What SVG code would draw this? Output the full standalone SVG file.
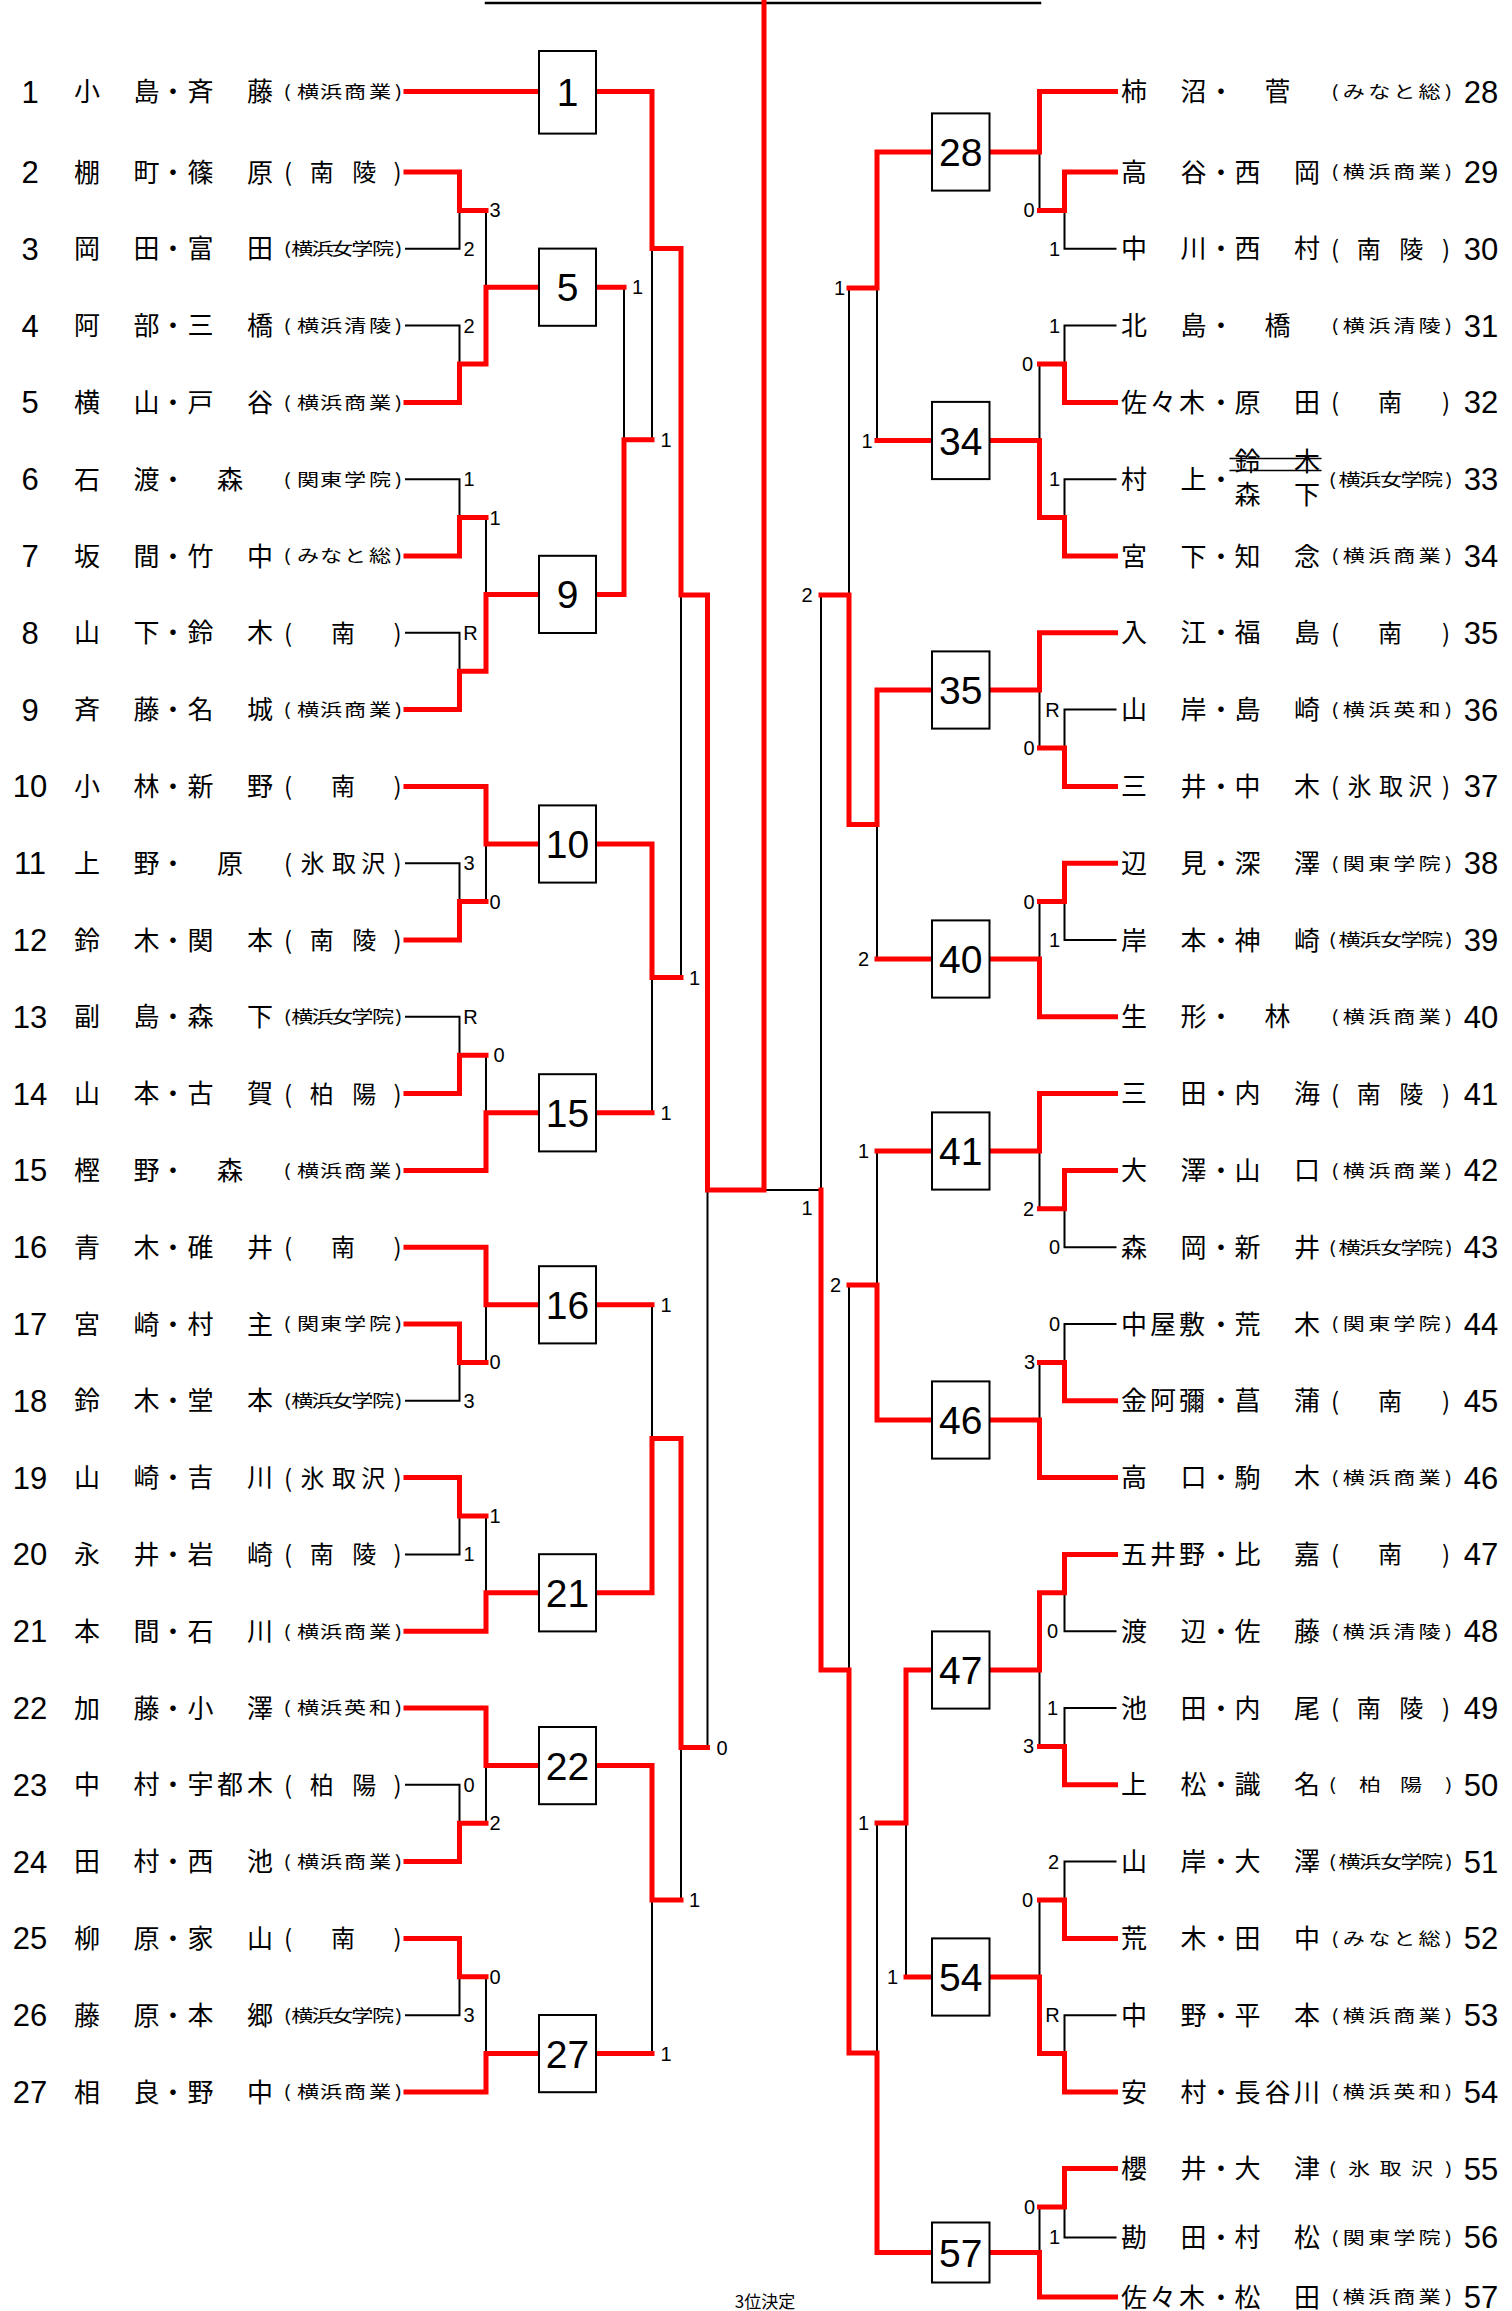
<svg xmlns="http://www.w3.org/2000/svg" width="1512" height="2311" viewBox="0 0 1512 2311">
<style>
.k{fill:none;stroke:#000;stroke-width:2;stroke-linecap:square}
.r{fill:none;stroke:#ff0000;stroke-width:5;stroke-linecap:square;stroke-linejoin:miter}
.box{fill:#fff;stroke:#000;stroke-width:2}
.num{font-family:"Liberation Sans",Arial,sans-serif;font-size:31px;text-anchor:middle;fill:#000}
.bn{font-family:"Liberation Sans",Arial,sans-serif;font-size:39px;text-anchor:middle;fill:#000}
.sc{font-family:"Liberation Sans",Arial,sans-serif;font-size:20px;text-anchor:middle;fill:#000}
.nm{font-family:"Noto Sans CJK JP","Noto Sans CJK SC",sans-serif;font-size:26px;text-anchor:middle;fill:#000}
.ss{font-family:"Noto Sans CJK JP","Noto Sans CJK SC",sans-serif;font-size:17px;text-anchor:middle;fill:#000}
.sl{font-family:"Noto Sans CJK JP","Noto Sans CJK SC",sans-serif;font-size:24px;text-anchor:middle;fill:#000}
</style>
<rect x="0" y="0" width="1512" height="2311" fill="#fff"/>
<g id="connectors">
<path class="k" style="stroke-width:2.5" d="M486,3H1040"/>
<path class="k" d="M406,248.8H459.5V210.4M406,325.6H459.5V364M406,479.2H459.5V517.6M406,632.8H459.5V671.2M406,863.2H459.5V901.6M406,1016.8H459.5V1055.2M406,1400.8H459.5V1362.4M406,1554.4H459.5V1516M406,1784.8H459.5V1823.2M406,2015.2H459.5V1976.8"/>
<path class="k" d="M486,210.4V287.2M486,517.6V594.4M486,901.6V844M486,1055.2V1112.8M486,1362.4V1304.8M486,1516V1592.8M486,1823.2V1765.6M486,1976.8V2053.6"/>
<path class="k" d="M624,287.2V439.7M652,439.7V248.4M652,1112.8V977.6M681,977.6V595M652,1304.8V1438.5M652,2053.6V1900M681,1900V1747.5M707.5,1747.5V1190M764,1190H821M821,595V1190"/>
<path class="k" d="M1115.5,248.8H1064.5V210.4M1115.5,325.6H1064.5V364M1115.5,479.2H1064.5V517.6M1115.5,709.6H1064.5V748M1115.5,940H1064.5V901.6M1115.5,1247.2H1064.5V1208.8M1115.5,1324H1064.5V1362.4M1115.5,1631.2H1064.5V1592.8M1115.5,1708H1064.5V1746.4M1115.5,1861.6H1064.5V1900M1115.5,2015.2H1064.5V2053.6M1115.5,2237.4H1064.5V2207"/>
<path class="k" d="M1039.5,210.4V152M1039.5,364V440.5M1039.5,748V690M1039.5,901.6V959M1039.5,1208.8V1151M1039.5,1362.4V1420M1039.5,1746.4V1670M1039.5,1900V1977M1039.5,2207V2252.5"/>
<path class="k" d="M877,440.5V288M849,288V595M877,959V824.6M877,1151V1285M849,1285V1670M906,1977V1823M877,1823V2053"/>
<path class="r" d="M406,91.5H539M406,172H459.5V210.4H486M406,402.4H459.5V364H486V287.2H539M406,556H459.5V517.6H486M406,709.6H459.5V671.2H486V594.4H539M406,786.4H486V844H539M406,940H459.5V901.6H486M406,1093.6H459.5V1055.2H486M406,1170.4H486V1112.8H539M406,1247.2H486V1304.8H539M406,1324H459.5V1362.4H486M406,1477.6H459.5V1516H486M406,1631.2H486V1592.8H539M406,1708H486V1765.6H539M406,1861.6H459.5V1823.2H486M406,1938.4H459.5V1976.8H486M406,2092H486V2053.6H539"/>
<path class="r" d="M596,91.5H652V248.4H681V595H707.5V1190H764V0M596,287.2H624M596,594.4H624V439.7H652M596,844H652V977.6H681M596,1112.8H652M596,1304.8H652M596,1592.8H652V1438.5H681V1747.5H707.5M596,1765.6H652V1900H681M596,2053.6H652"/>
<path class="r" d="M1115.5,91.5H1039.5V152H989.5M1115.5,172H1064.5V210.4H1039.5M1115.5,402.4H1064.5V364H1039.5M1115.5,556H1064.5V517.6H1039.5V440.5H989.5M1115.5,632.8H1039.5V690H989.5M1115.5,786.4H1064.5V748H1039.5M1115.5,863.2H1064.5V901.6H1039.5M1115.5,1016.8H1039.5V959H989.5M1115.5,1093.6H1039.5V1151H989.5M1115.5,1170.4H1064.5V1208.8H1039.5M1115.5,1400.8H1064.5V1362.4H1039.5M1115.5,1477.6H1039.5V1420H989.5M1115.5,1554.4H1064.5V1592.8H1039.5V1670H989.5M1115.5,1784.8H1064.5V1746.4H1039.5M1115.5,1938.4H1064.5V1900H1039.5M1115.5,2092H1064.5V2053.6H1039.5V1977H989.5M1115.5,2168.6H1064.5V2207H1039.5M1115.5,2297H1039.5V2252.5H989.5"/>
<path class="r" d="M932,152H877V288H849M932,440.5H877M932,690H877V824.6H849V595H821M932,959H877M932,1151H877M932,1420H877V1285H849M932,1670H906V1823H877M932,1977H906M932,2252.5H877V2053H849V1670H821V1190"/>
<g id="scores">
<text class="sc" x="495" y="217.4">3</text><text class="sc" x="469" y="255.8">2</text><text class="sc" x="469" y="332.6">2</text>
<text class="sc" x="469" y="486.2">1</text><text class="sc" x="495" y="524.6">1</text><text class="sc" x="470.5" y="639.8">R</text>
<text class="sc" x="469" y="870.2">3</text><text class="sc" x="495" y="908.6">0</text><text class="sc" x="470.5" y="1023.8">R</text>
<text class="sc" x="499" y="1062.2">0</text><text class="sc" x="495" y="1369.4">0</text><text class="sc" x="469" y="1407.8">3</text>
<text class="sc" x="495" y="1523">1</text><text class="sc" x="469" y="1561.4">1</text><text class="sc" x="469" y="1791.8">0</text>
<text class="sc" x="495" y="1830.2">2</text><text class="sc" x="495" y="1983.8">0</text><text class="sc" x="469" y="2022.2">3</text>
<text class="sc" x="637.5" y="294.2">1</text><text class="sc" x="666" y="446.7">1</text><text class="sc" x="694.5" y="984.6">1</text>
<text class="sc" x="666" y="1119.8">1</text><text class="sc" x="666" y="1311.8">1</text><text class="sc" x="722" y="1754.5">0</text>
<text class="sc" x="694.5" y="1907">1</text><text class="sc" x="666" y="2060.6">1</text>
<text class="sc" x="1029" y="217.4">0</text><text class="sc" x="1054.5" y="255.8">1</text><text class="sc" x="1054.5" y="332.6">1</text>
<text class="sc" x="1027.5" y="371">0</text><text class="sc" x="1054.5" y="486.2">1</text><text class="sc" x="1052.5" y="716.6">R</text>
<text class="sc" x="1029" y="755">0</text><text class="sc" x="1029" y="908.6">0</text><text class="sc" x="1054.5" y="947">1</text>
<text class="sc" x="1028.5" y="1215.8">2</text><text class="sc" x="1054.5" y="1254.2">0</text><text class="sc" x="1054.5" y="1331">0</text>
<text class="sc" x="1029.5" y="1369.4">3</text><text class="sc" x="1052.5" y="1638.2">0</text><text class="sc" x="1052.5" y="1715">1</text>
<text class="sc" x="1028.5" y="1753.4">3</text><text class="sc" x="1053.5" y="1868.6">2</text><text class="sc" x="1027.5" y="1907">0</text>
<text class="sc" x="1052.5" y="2022.2">R</text><text class="sc" x="1029.5" y="2214">0</text><text class="sc" x="1054.5" y="2244.4">1</text>
<text class="sc" x="839.5" y="295">1</text><text class="sc" x="867" y="447.5">1</text><text class="sc" x="807" y="602">2</text>
<text class="sc" x="863.5" y="966">2</text><text class="sc" x="863.5" y="1158">1</text><text class="sc" x="807" y="1215">1</text>
<text class="sc" x="835.5" y="1292">2</text><text class="sc" x="863.5" y="1830">1</text><text class="sc" x="892.5" y="1984">1</text>
</g>
</g>
<g id="m1"><rect class="box" x="539" y="51" width="57" height="82.6"/><text class="bn" x="567.5" y="105.5">1</text></g>
<g id="m5"><rect class="box" x="539" y="248.6" width="57" height="77.2"/><text class="bn" x="567.5" y="301.2">5</text></g>
<g id="m9"><rect class="box" x="539" y="555.8" width="57" height="77.2"/><text class="bn" x="567.5" y="608.4">9</text></g>
<g id="m10"><rect class="box" x="539" y="805.4" width="57" height="77.2"/><text class="bn" x="567.5" y="858">10</text></g>
<g id="m15"><rect class="box" x="539" y="1074.2" width="57" height="77.2"/><text class="bn" x="567.5" y="1126.8">15</text></g>
<g id="m16"><rect class="box" x="539" y="1266.2" width="57" height="77.2"/><text class="bn" x="567.5" y="1318.8">16</text></g>
<g id="m21"><rect class="box" x="539" y="1554.2" width="57" height="77.2"/><text class="bn" x="567.5" y="1606.8">21</text></g>
<g id="m22"><rect class="box" x="539" y="1727" width="57" height="77.2"/><text class="bn" x="567.5" y="1779.6">22</text></g>
<g id="m27"><rect class="box" x="539" y="2015" width="57" height="77.2"/><text class="bn" x="567.5" y="2067.6">27</text></g>
<g id="m28"><rect class="box" x="932" y="113.4" width="57.5" height="77.2"/><text class="bn" x="960.8" y="166">28</text></g>
<g id="m34"><rect class="box" x="932" y="401.9" width="57.5" height="77.2"/><text class="bn" x="960.8" y="454.5">34</text></g>
<g id="m35"><rect class="box" x="932" y="651.4" width="57.5" height="77.2"/><text class="bn" x="960.8" y="704">35</text></g>
<g id="m40"><rect class="box" x="932" y="920.4" width="57.5" height="77.2"/><text class="bn" x="960.8" y="973">40</text></g>
<g id="m41"><rect class="box" x="932" y="1112.4" width="57.5" height="77.2"/><text class="bn" x="960.8" y="1165">41</text></g>
<g id="m46"><rect class="box" x="932" y="1381.4" width="57.5" height="77.2"/><text class="bn" x="960.8" y="1434">46</text></g>
<g id="m47"><rect class="box" x="932" y="1631.4" width="57.5" height="77.2"/><text class="bn" x="960.8" y="1684">47</text></g>
<g id="m54"><rect class="box" x="932" y="1938.4" width="57.5" height="77.2"/><text class="bn" x="960.8" y="1991">54</text></g>
<g id="m57"><rect class="box" x="932" y="2222.5" width="57.5" height="60"/><text class="bn" x="960.8" y="2266.5">57</text></g>
<g id="e1"><text class="num" x="30" y="102.5">1</text><text class="nm" x="87 146.5 173 200.5 260" y="101">小島・斉藤</text><text class="ss" transform="scale(1.3 1)" x="221 236.9 254.6 273.1 292.3 306.5" y="98">(横浜商業)</text></g>
<g id="e2"><text class="num" x="30" y="183">2</text><text class="nm" x="87 146.5 173 200.5 260" y="181.5">棚町・篠原</text><text class="sl" x="288 321.8 364.3 397.5" y="181">(南陵)</text></g>
<g id="e3"><text class="num" x="30" y="259.8">3</text><text class="nm" x="87 146.5 173 200.5 260" y="258.3">岡田・富田</text><text class="ss" transform="scale(1.3 1)" x="221.2 232.5 248.1 263.2 278.7 294.6 306.8" y="255.3">(横浜女学院)</text></g>
<g id="e4"><text class="num" x="30" y="336.6">4</text><text class="nm" x="87 146.5 173 200.5 260" y="335.1">阿部・三橋</text><text class="ss" transform="scale(1.3 1)" x="221 236.9 254.6 273.1 292.3 306.5" y="332.1">(横浜清陵)</text></g>
<g id="e5"><text class="num" x="30" y="413.4">5</text><text class="nm" x="87 146.5 173 200.5 260" y="411.9">横山・戸谷</text><text class="ss" transform="scale(1.3 1)" x="221 236.9 254.6 273.1 292.3 306.5" y="408.9">(横浜商業)</text></g>
<g id="e6"><text class="num" x="30" y="490.2">6</text><text class="nm" x="87 146.5 173 230" y="488.7">石渡・森</text><text class="ss" transform="scale(1.3 1)" x="221 236.9 254.6 273.1 292.3 306.5" y="485.7">(関東学院)</text></g>
<g id="e7"><text class="num" x="30" y="567">7</text><text class="nm" x="87 146.5 173 200.5 260" y="565.5">坂間・竹中</text><text class="ss" transform="scale(1.3 1)" x="221 236.9 254.6 273.1 292.3 306.5" y="562.5">(みなと総)</text></g>
<g id="e8"><text class="num" x="30" y="643.8">8</text><text class="nm" x="87 146.5 173 200.5 260" y="642.3">山下・鈴木</text><text class="sl" x="288 343 397.5" y="641.8">(南)</text></g>
<g id="e9"><text class="num" x="30" y="720.6">9</text><text class="nm" x="87 146.5 173 200.5 260" y="719.1">斉藤・名城</text><text class="ss" transform="scale(1.3 1)" x="221 236.9 254.6 273.1 292.3 306.5" y="716.1">(横浜商業)</text></g>
<g id="e10"><text class="num" x="30" y="797.4">10</text><text class="nm" x="87 146.5 173 200.5 260" y="795.9">小林・新野</text><text class="sl" x="288 343 397.5" y="795.4">(南)</text></g>
<g id="e11"><text class="num" x="30" y="874.2">11</text><text class="nm" x="87 146.5 173 230" y="872.7">上野・原</text><text class="sl" x="288 312.6 344 373.3 397.5" y="872.2">(氷取沢)</text></g>
<g id="e12"><text class="num" x="30" y="951">12</text><text class="nm" x="87 146.5 173 200.5 260" y="949.5">鈴木・関本</text><text class="sl" x="288 321.8 364.3 397.5" y="949">(南陵)</text></g>
<g id="e13"><text class="num" x="30" y="1027.8">13</text><text class="nm" x="87 146.5 173 200.5 260" y="1026.3">副島・森下</text><text class="ss" transform="scale(1.3 1)" x="221.2 232.5 248.1 263.2 278.7 294.6 306.8" y="1023.3">(横浜女学院)</text></g>
<g id="e14"><text class="num" x="30" y="1104.6">14</text><text class="nm" x="87 146.5 173 200.5 260" y="1103.1">山本・古賀</text><text class="sl" x="288 321.8 364.3 397.5" y="1102.6">(柏陽)</text></g>
<g id="e15"><text class="num" x="30" y="1181.4">15</text><text class="nm" x="87 146.5 173 230" y="1179.9">樫野・森</text><text class="ss" transform="scale(1.3 1)" x="221 236.9 254.6 273.1 292.3 306.5" y="1176.9">(横浜商業)</text></g>
<g id="e16"><text class="num" x="30" y="1258.2">16</text><text class="nm" x="87 146.5 173 200.5 260" y="1256.7">青木・碓井</text><text class="sl" x="288 343 397.5" y="1256.2">(南)</text></g>
<g id="e17"><text class="num" x="30" y="1335">17</text><text class="nm" x="87 146.5 173 200.5 260" y="1333.5">宮崎・村主</text><text class="ss" transform="scale(1.3 1)" x="221 236.9 254.6 273.1 292.3 306.5" y="1330.5">(関東学院)</text></g>
<g id="e18"><text class="num" x="30" y="1411.8">18</text><text class="nm" x="87 146.5 173 200.5 260" y="1410.3">鈴木・堂本</text><text class="ss" transform="scale(1.3 1)" x="221.2 232.5 248.1 263.2 278.7 294.6 306.8" y="1407.3">(横浜女学院)</text></g>
<g id="e19"><text class="num" x="30" y="1488.6">19</text><text class="nm" x="87 146.5 173 200.5 260" y="1487.1">山崎・吉川</text><text class="sl" x="288 312.6 344 373.3 397.5" y="1486.6">(氷取沢)</text></g>
<g id="e20"><text class="num" x="30" y="1565.4">20</text><text class="nm" x="87 146.5 173 200.5 260" y="1563.9">永井・岩崎</text><text class="sl" x="288 321.8 364.3 397.5" y="1563.4">(南陵)</text></g>
<g id="e21"><text class="num" x="30" y="1642.2">21</text><text class="nm" x="87 146.5 173 200.5 260" y="1640.7">本間・石川</text><text class="ss" transform="scale(1.3 1)" x="221 236.9 254.6 273.1 292.3 306.5" y="1637.7">(横浜商業)</text></g>
<g id="e22"><text class="num" x="30" y="1719">22</text><text class="nm" x="87 146.5 173 200.5 260" y="1717.5">加藤・小澤</text><text class="ss" transform="scale(1.3 1)" x="221 236.9 254.6 273.1 292.3 306.5" y="1714.5">(横浜英和)</text></g>
<g id="e23"><text class="num" x="30" y="1795.8">23</text><text class="nm" x="87 146.5 173 200.5 230 260" y="1794.3">中村・宇都木</text><text class="sl" x="288 321.8 364.3 397.5" y="1793.8">(柏陽)</text></g>
<g id="e24"><text class="num" x="30" y="1872.6">24</text><text class="nm" x="87 146.5 173 200.5 260" y="1871.1">田村・西池</text><text class="ss" transform="scale(1.3 1)" x="221 236.9 254.6 273.1 292.3 306.5" y="1868.1">(横浜商業)</text></g>
<g id="e25"><text class="num" x="30" y="1949.4">25</text><text class="nm" x="87 146.5 173 200.5 260" y="1947.9">柳原・家山</text><text class="sl" x="288 343 397.5" y="1947.4">(南)</text></g>
<g id="e26"><text class="num" x="30" y="2026.2">26</text><text class="nm" x="87 146.5 173 200.5 260" y="2024.7">藤原・本郷</text><text class="ss" transform="scale(1.3 1)" x="221.2 232.5 248.1 263.2 278.7 294.6 306.8" y="2021.7">(横浜女学院)</text></g>
<g id="e27"><text class="num" x="30" y="2103">27</text><text class="nm" x="87 146.5 173 200.5 260" y="2101.5">相良・野中</text><text class="ss" transform="scale(1.3 1)" x="221 236.9 254.6 273.1 292.3 306.5" y="2098.5">(横浜商業)</text></g>
<g id="e28"><text class="num" x="1481" y="102.5">28</text><text class="nm" x="1134 1193.5 1221 1277.5" y="101">柿沼・菅</text><text class="ss" transform="scale(1.3 1)" x="1026.9 1041.4 1061 1080.3 1099.6 1114.3" y="98">(みなと総)</text></g>
<g id="e29"><text class="num" x="1481" y="183">29</text><text class="nm" x="1134 1193.5 1221 1247.5 1307" y="181.5">高谷・西岡</text><text class="ss" transform="scale(1.3 1)" x="1026.9 1041.4 1061 1080.3 1099.6 1114.3" y="178.5">(横浜商業)</text></g>
<g id="e30"><text class="num" x="1481" y="259.8">30</text><text class="nm" x="1134 1193.5 1221 1247.5 1307" y="258.3">中川・西村</text><text class="sl" x="1335 1368.8 1411.3 1446" y="257.8">(南陵)</text></g>
<g id="e31"><text class="num" x="1481" y="336.6">31</text><text class="nm" x="1134 1193.5 1221 1277.5" y="335.1">北島・橋</text><text class="ss" transform="scale(1.3 1)" x="1026.9 1041.4 1061 1080.3 1099.6 1114.3" y="332.1">(横浜清陵)</text></g>
<g id="e32"><text class="num" x="1481" y="413.4">32</text><text class="nm" x="1134 1163 1192 1221 1247.5 1307" y="411.9">佐々木・原田</text><text class="sl" x="1335 1390 1446" y="411.4">(南)</text></g>
<g id="e33"><text class="num" x="1481" y="490.2">33</text><text class="nm" x="1134 1193.5 1221" y="488.7">村上・</text><text class="nm" x="1247.5 1307" y="470.5">鈴木</text><path d="M1229.5,458.4H1321.5M1229.5,470.5H1321.5" stroke="#000" stroke-width="1.5" fill="none"/><text class="nm" x="1247.5 1307" y="503.5">森下</text><text class="ss" transform="scale(1.3 1)" x="1024.9 1038.1 1053.8 1070 1085.8 1101.5 1114.6" y="485.7">(横浜女学院)</text></g>
<g id="e34"><text class="num" x="1481" y="567">34</text><text class="nm" x="1134 1193.5 1221 1247.5 1307" y="565.5">宮下・知念</text><text class="ss" transform="scale(1.3 1)" x="1026.9 1041.4 1061 1080.3 1099.6 1114.3" y="562.5">(横浜商業)</text></g>
<g id="e35"><text class="num" x="1481" y="643.8">35</text><text class="nm" x="1134 1193.5 1221 1247.5 1307" y="642.3">入江・福島</text><text class="sl" x="1335 1390 1446" y="641.8">(南)</text></g>
<g id="e36"><text class="num" x="1481" y="720.6">36</text><text class="nm" x="1134 1193.5 1221 1247.5 1307" y="719.1">山岸・島崎</text><text class="ss" transform="scale(1.3 1)" x="1026.9 1041.4 1061 1080.3 1099.6 1114.3" y="716.1">(横浜英和)</text></g>
<g id="e37"><text class="num" x="1481" y="797.4">37</text><text class="nm" x="1134 1193.5 1221 1247.5 1307" y="795.9">三井・中木</text><text class="sl" x="1335 1359.6 1391 1420.3 1446" y="795.4">(氷取沢)</text></g>
<g id="e38"><text class="num" x="1481" y="874.2">38</text><text class="nm" x="1134 1193.5 1221 1247.5 1307" y="872.7">辺見・深澤</text><text class="ss" transform="scale(1.3 1)" x="1026.9 1041.4 1061 1080.3 1099.6 1114.3" y="869.7">(関東学院)</text></g>
<g id="e39"><text class="num" x="1481" y="951">39</text><text class="nm" x="1134 1193.5 1221 1247.5 1307" y="949.5">岸本・神崎</text><text class="ss" transform="scale(1.3 1)" x="1024.9 1038.1 1053.8 1070 1085.8 1101.5 1114.6" y="946.5">(横浜女学院)</text></g>
<g id="e40"><text class="num" x="1481" y="1027.8">40</text><text class="nm" x="1134 1193.5 1221 1277.5" y="1026.3">生形・林</text><text class="ss" transform="scale(1.3 1)" x="1026.9 1041.4 1061 1080.3 1099.6 1114.3" y="1023.3">(横浜商業)</text></g>
<g id="e41"><text class="num" x="1481" y="1104.6">41</text><text class="nm" x="1134 1193.5 1221 1247.5 1307" y="1103.1">三田・内海</text><text class="sl" x="1335 1368.8 1411.3 1446" y="1102.6">(南陵)</text></g>
<g id="e42"><text class="num" x="1481" y="1181.4">42</text><text class="nm" x="1134 1193.5 1221 1247.5 1307" y="1179.9">大澤・山口</text><text class="ss" transform="scale(1.3 1)" x="1026.9 1041.4 1061 1080.3 1099.6 1114.3" y="1176.9">(横浜商業)</text></g>
<g id="e43"><text class="num" x="1481" y="1258.2">43</text><text class="nm" x="1134 1193.5 1221 1247.5 1307" y="1256.7">森岡・新井</text><text class="ss" transform="scale(1.3 1)" x="1024.9 1038.1 1053.8 1070 1085.8 1101.5 1114.6" y="1253.7">(横浜女学院)</text></g>
<g id="e44"><text class="num" x="1481" y="1335">44</text><text class="nm" x="1134 1163 1192 1221 1247.5 1307" y="1333.5">中屋敷・荒木</text><text class="ss" transform="scale(1.3 1)" x="1026.9 1041.4 1061 1080.3 1099.6 1114.3" y="1330.5">(関東学院)</text></g>
<g id="e45"><text class="num" x="1481" y="1411.8">45</text><text class="nm" x="1134 1163 1192 1221 1247.5 1307" y="1410.3">金阿彌・菖蒲</text><text class="sl" x="1335 1390 1446" y="1409.8">(南)</text></g>
<g id="e46"><text class="num" x="1481" y="1488.6">46</text><text class="nm" x="1134 1193.5 1221 1247.5 1307" y="1487.1">高口・駒木</text><text class="ss" transform="scale(1.3 1)" x="1026.9 1041.4 1061 1080.3 1099.6 1114.3" y="1484.1">(横浜商業)</text></g>
<g id="e47"><text class="num" x="1481" y="1565.4">47</text><text class="nm" x="1134 1163 1192 1221 1247.5 1307" y="1563.9">五井野・比嘉</text><text class="sl" x="1335 1390 1446" y="1563.4">(南)</text></g>
<g id="e48"><text class="num" x="1481" y="1642.2">48</text><text class="nm" x="1134 1193.5 1221 1247.5 1307" y="1640.7">渡辺・佐藤</text><text class="ss" transform="scale(1.3 1)" x="1026.9 1041.4 1061 1080.3 1099.6 1114.3" y="1637.7">(横浜清陵)</text></g>
<g id="e49"><text class="num" x="1481" y="1719">49</text><text class="nm" x="1134 1193.5 1221 1247.5 1307" y="1717.5">池田・内尾</text><text class="sl" x="1335 1368.8 1411.3 1446" y="1717">(南陵)</text></g>
<g id="e50"><text class="num" x="1481" y="1795.8">50</text><text class="nm" x="1134 1193.5 1221 1247.5 1307" y="1794.3">上松・識名</text><text class="ss" transform="scale(1.3 1)" x="1025 1053.8 1085.4 1114.5" y="1791.3">(柏陽)</text></g>
<g id="e51"><text class="num" x="1481" y="1872.6">51</text><text class="nm" x="1134 1193.5 1221 1247.5 1307" y="1871.1">山岸・大澤</text><text class="ss" transform="scale(1.3 1)" x="1024.9 1038.1 1053.8 1070 1085.8 1101.5 1114.6" y="1868.1">(横浜女学院)</text></g>
<g id="e52"><text class="num" x="1481" y="1949.4">52</text><text class="nm" x="1134 1193.5 1221 1247.5 1307" y="1947.9">荒木・田中</text><text class="ss" transform="scale(1.3 1)" x="1026.9 1041.4 1061 1080.3 1099.6 1114.3" y="1944.9">(みなと総)</text></g>
<g id="e53"><text class="num" x="1481" y="2026.2">53</text><text class="nm" x="1134 1193.5 1221 1247.5 1307" y="2024.7">中野・平本</text><text class="ss" transform="scale(1.3 1)" x="1026.9 1041.4 1061 1080.3 1099.6 1114.3" y="2021.7">(横浜商業)</text></g>
<g id="e54"><text class="num" x="1481" y="2103">54</text><text class="nm" x="1134 1193.5 1221 1247.5 1277.5 1307" y="2101.5">安村・長谷川</text><text class="ss" transform="scale(1.3 1)" x="1026.9 1041.4 1061 1080.3 1099.6 1114.3" y="2098.5">(横浜英和)</text></g>
<g id="e55"><text class="num" x="1481" y="2179.6">55</text><text class="nm" x="1134 1193.5 1221 1247.5 1307" y="2178.1">櫻井・大津</text><text class="ss" transform="scale(1.3 1)" x="1025 1045.4 1069.7 1093.8 1114.5" y="2175.1">(氷取沢)</text></g>
<g id="e56"><text class="num" x="1481" y="2248.4">56</text><text class="nm" x="1134 1193.5 1221 1247.5 1307" y="2246.9">勘田・村松</text><text class="ss" transform="scale(1.3 1)" x="1026.9 1041.4 1061 1080.3 1099.6 1114.3" y="2243.9">(関東学院)</text></g>
<g id="e57"><text class="num" x="1481" y="2308">57</text><text class="nm" x="1134 1163 1192 1221 1247.5 1307" y="2306.5">佐々木・松田</text><text class="ss" transform="scale(1.3 1)" x="1026.9 1041.4 1061 1080.3 1099.6 1114.3" y="2303.5">(横浜商業)</text></g>
<g id="third"><text class="ss" style="font-size:17px" x="765" y="2308">3位決定</text></g>
</svg>
